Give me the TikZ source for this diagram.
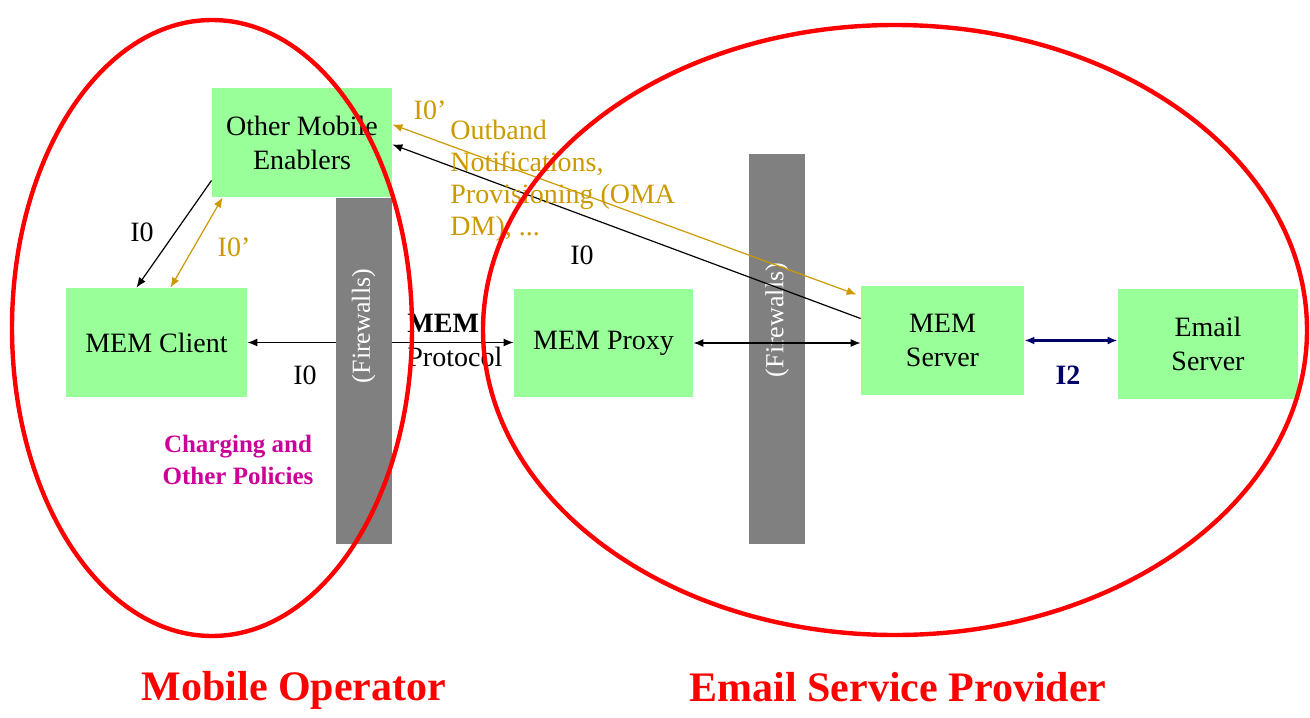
\documentclass[tikz,border=0pt]{standalone}
\usepackage{fontspec}
\setmainfont{Liberation Serif}
\usetikzlibrary{arrows.meta}

\definecolor{boxgreen}{RGB}{153,255,153}
\definecolor{wallgray}{RGB}{128,128,128}
\definecolor{gold}{RGB}{204,153,0}
\definecolor{policy}{RGB}{204,0,153}
\definecolor{navy}{RGB}{0,0,102}

\begin{document}
\begin{tikzpicture}[
      x=0.5pt, y=-0.5pt,
      every node/.style={align=center, font=\fontsize{14}{17}\selectfont},
      box/.style={
        rectangle,
        fill=boxgreen,
        inner sep=0pt
      },
      wall/.style={
        rectangle,
        fill=wallgray,
        minimum width=28pt,
        inner sep=0pt
      },
      walltext/.style={
        text=white,
        rotate=90,
        font=\fontsize{13}{15}\selectfont
      },
      link/.style={
        line width=0.6pt,
        >={Latex[length=5pt,width=4pt]}
      },
      zone/.style={draw=red, line width=2.2pt},
      zonelabel/.style={
        text=red,
        font=\fontsize{21}{25}\selectfont\bfseries
      }
    ]
    \useasboundingbox (0,0) rectangle (1310,717);

    % components
    \node[box, minimum width=90pt, minimum height=54.5pt]
      (Enablers) at (302,142.5)
      {Other Mobile\\Enablers};
    \node[box, minimum width=90.5pt, minimum height=54.5pt]
      (Client) at (156.5,342.5)
      {MEM Client};
    \node[box, minimum width=89.5pt, minimum height=54pt]
      (Proxy) at (603.5,343)
      {MEM Proxy};
    \node[box, minimum width=81.5pt, minimum height=54.5pt]
      (Server) at (942.5,340.5)
      {MEM\\Server};
    \node[box, minimum width=90pt, minimum height=55pt]
      (Email) at (1208,344)
      {Email\\Server};

    % MEM protocol runs behind the first firewall
    \draw[link, <->] (Client.east) -- (Client.east -| Proxy.west);

    % firewalls
    \node[wall, minimum height=173pt] (WallLeft) at (363.5,371) {};
    \node[wall, minimum height=195pt] (WallRight) at (777,349) {};
    \node[walltext] (WallLeftText) at (363.5,326) {(Firewalls)};
    \node[walltext] (WallRightText) at (777,320) {(Firewalls)};

    % interfaces
    \draw[link, <->] (Proxy.east) -- (Proxy.east -| Server.west);
    \draw[link, <->, draw=navy, line width=1.5pt]
      (Server.east) -- (Server.east -| Email.west);
    \draw[link, ->] ([yshift=11pt]Server.west) -- ([yshift=-1pt]Enablers.east);
    \draw[link, <->, draw=gold]
      ([yshift=9pt]Enablers.east) -- ([xshift=-2pt,yshift=-4.5pt]Server.north west);
    \draw[link, ->] ([yshift=8.5pt]Enablers.south west) -- ([xshift=-10pt]Client.north);
    \draw[link, <->, draw=gold]
      ([xshift=7pt]Client.north) -- ([xshift=5.5pt]Enablers.south west);

    % labels
    \node (ClientProxyLabel) at (305,375) {I0};
    \node[anchor=west, align=left, inner sep=0pt] (ProtocolLabel) at (407,340)
      {\textbf{MEM}\\Protocol};
    \node (ServerEnablersLabel) at (582,255) {I0};
    \node[text=gold] (NotifyLabel) at (430,110) {I0'};
    \node[text=gold, anchor=north west, align=left, inner sep=0pt,
      font=\fontsize{14}{16}\selectfont] (OutbandLabel) at (450,120)
      {Outband\\Notifications,\\Provisioning (OMA\\DM), ...};
    \node (ClientEnablersLabel) at (142,232) {I0};
    \node[text=gold] (ClientNotifyLabel) at (234,247) {I0'};
    \node[text=navy, font=\fontsize{14}{17}\selectfont\bfseries]
      (EmailLabel) at (1068,375) {I2};
    \node[text=policy, font=\fontsize{12.5}{16}\selectfont\bfseries]
      (PolicyLabel) at (238,460) {Charging and\\Other Policies};

    % administrative domains
    \draw[zone] (212,328) ellipse [x radius=200, y radius=308];
    \draw[zone] (895,330) ellipse [x radius=412, y radius=305];
    \node[zonelabel] (OperatorLabel) at (294,690) {Mobile Operator};
    \node[zonelabel] (ProviderLabel) at (898,687) {Email Service Provider};
  \end{tikzpicture}
\end{document}
